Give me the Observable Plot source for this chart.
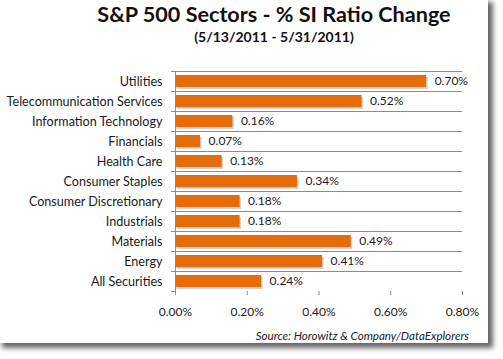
<!DOCTYPE html>
<html><head><meta charset="utf-8">
<script src="https://cdn.jsdelivr.net/npm/d3@7"></script>
<script src="https://cdn.jsdelivr.net/npm/@observablehq/plot@0.6"></script>
<style>
html,body{margin:0;padding:0;background:#fff;}
#wrap{position:relative;width:503px;height:359px;overflow:hidden;font-family:Lato,sans-serif;background:#fff;}
#frame{position:absolute;left:-3px;top:-3px;width:491px;height:346px;background:#fff;box-shadow:5px 5px 5px rgba(0,0,0,0.6);}
.t{position:absolute;left:0;width:548px;text-align:center;color:#111;font-weight:bold;white-space:nowrap;}
#title{top:4px;font-size:21.6px;line-height:20px;}
#subtitle{top:30px;font-size:14px;line-height:14px;}
#chart{position:absolute;left:0;top:50px;}
#caption{position:absolute;right:34px;top:330px;font-size:11.6px;line-height:12px;font-style:italic;color:#222;white-space:nowrap;}
</style></head>
<body>
<div id="wrap">
  <div id="frame"></div>
  <div class="t" id="title">S&amp;P 500 Sectors - % SI Ratio Change</div>
  <div class="t" id="subtitle">(5/13/2011 - 5/31/2011)</div>
  <div id="chart"></div>
  <div id="caption">Source: Horowitz &amp; Company/DataExplorers</div>
</div>
<script>
const sectors = ["Utilities","Telecommunication Services","Information Technology","Financials","Health Care","Consumer Staples","Consumer Discretionary","Industrials","Materials","Energy","All Securities"];
const changes = [0.70,0.52,0.16,0.07,0.13,0.34,0.18,0.18,0.49,0.41,0.24];
const xTicks = [0,0.2,0.4,0.6,0.8];
const data = sectors.map((s,i)=>({sector:s, value:changes[i]}));

const fmt = v => v.toFixed(2) + "%";
const orange = "#E46C0A";
const grid = "#8c8c8c";

const chart = Plot.plot({
  width: 503,
  height: 290,
  marginTop: 21,
  marginBottom: 49,
  marginLeft: 175,
  marginRight: 41,
  style: {fontFamily: "Lato, sans-serif", fontSize: "12px", color: "#1a1a1a", background: "transparent"},
  x: {domain: [0, 0.8], ticks: xTicks, tickFormat: fmt, label: null, tickSize: 4, tickPadding: 12},
  y: {domain: sectors, padding: 0, label: null, tickSize: 0, tickPadding: 13},
  marks: [
    Plot.ruleY(sectors, {y: d => d, dy: -10, x1: 0, x2: 0.8, insetLeft: -4, stroke: grid}),
    Plot.ruleY([sectors[sectors.length-1]], {y: d => d, dy: 10, x1: 0, x2: 0, insetLeft: -4, stroke: grid}),
    Plot.barX(data, {y: "sector", x: "value", insetTop: 4, insetBottom: 4, dx: 1.5, dy: 2, fill: "#999", fillOpacity: 0.45}),
    Plot.barX(data, {y: "sector", x: "value", insetTop: 4, insetBottom: 4, fill: orange}),
    Plot.ruleX([0], {stroke: grid, insetBottom: -2}),
    Plot.text(data, {y: "sector", x: "value", text: d => fmt(d.value), dx: 8, textAnchor: "start", fill: "#1a1a1a", fontSize: 12})
  ]
});
const xt = chart.querySelector('[aria-label="x-axis tick"]');
if (xt) xt.setAttribute("stroke", grid);
const yl = chart.querySelector('[aria-label="y-axis tick label"]');
if (yl) yl.setAttribute("font-size", "12.6");
document.getElementById("chart").appendChild(chart);
</script>
</body></html>
